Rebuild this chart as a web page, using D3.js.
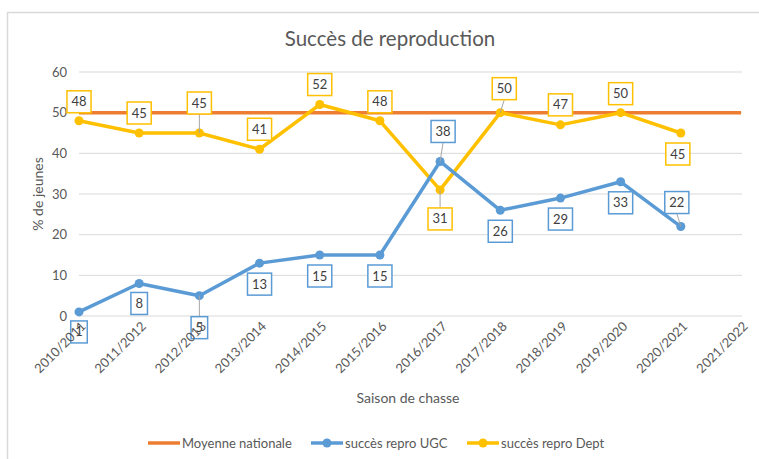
<!DOCTYPE html>
<html><head><meta charset="utf-8">
<script src="https://cdn.jsdelivr.net/npm/d3@7"></script>
<style>body{margin:0;background:#fff}svg{display:block;font-family:Lato,"Open Sans",sans-serif}</style>
</head><body><svg id="c" width="759" height="459"></svg>
<script>
const categories = ["2010/2011","2011/2012","2012/2013","2013/2014","2014/2015","2015/2016","2016/2017","2017/2018","2018/2019","2019/2020","2020/2021","2021/2022"];
const moyenneNationale = [50,50,50,50,50,50,50,50,50,50,50,50];
const reproUGC = [1,8,5,13,15,15,38,26,29,33,22];
const reproDept = [48,45,45,41,52,48,31,50,47,50,45];
const yTicks = [0,10,20,30,40,50,60];
// label placement offsets (pixels, relative to each point)
const ugcLabelDx = [0,0,0,0,0,0,3,0,0,0,-4];
const ugcLabelDy = [20,20,32,21,21,21,-30,21,21,21,-24];
const deptLabelDx = [0,0,0,0,0,0,0,4,0,0,-3];
const deptLabelDy = [-19,-20,-30,-20,-20,-19,29,-24,-20,-19,21];

const svg = d3.select("#c");
const W=759,H=459;
svg.append("rect").attr("x",7.5).attr("y",12.5).attr("width",W).attr("height",H).attr("fill","#fff").attr("stroke","#d9d9d9").attr("stroke-width",1.5);

const x = d3.scalePoint().domain(categories).range([79,741]);
const y = d3.scaleLinear().domain([0,60]).range([316,72]);

// grid
svg.append("g").selectAll("line").data(yTicks).join("line")
  .attr("x1",79).attr("x2",742).attr("y1",d=>y(d)).attr("y2",d=>y(d))
  .attr("stroke","#d9d9d9").attr("stroke-width",1);

// y axis
const ya = svg.append("g").attr("transform","translate(79,0)").call(d3.axisLeft(y).tickValues(yTicks).tickSize(0).tickPadding(12));
ya.select(".domain").remove();
ya.selectAll("text").attr("fill","#595959").style("font-size","13px").style("font-family","Lato");

// x axis
const xa = svg.append("g").attr("transform","translate(0,316)").call(d3.axisBottom(x).tickSize(0));
xa.select(".domain").remove();
xa.selectAll("text").attr("fill","#595959").style("font-size","13px").style("font-family","Lato")
  .attr("text-anchor","end").attr("dy",0).attr("transform","translate(5,9) rotate(-45)");

// titles
svg.append("text").attr("x",390).attr("y",46).attr("text-anchor","middle").attr("fill","#595959").style("font-size","20.5px").text("Succès de reproduction");
svg.append("text").attr("transform","translate(43,194) rotate(-90)").attr("text-anchor","middle").attr("fill","#595959").style("font-size","14px").text("% de jeunes");
svg.append("text").attr("x",408).attr("y",403).attr("text-anchor","middle").attr("fill","#595959").style("font-size","14px").text("Saison de chasse");

// national average line
const lineGen = d3.line().x((d,i)=>x(categories[i])).y(d=>y(d));
svg.append("path").datum(moyenneNationale).attr("d",lineGen).attr("fill","none").attr("stroke","#ED7D31").attr("stroke-width",3.5);

function series(vals,color){
  svg.append("path").datum(vals).attr("d",lineGen).attr("fill","none").attr("stroke",color).attr("stroke-width",3.5).attr("stroke-linejoin","round");
  svg.append("g").selectAll("circle").data(vals).join("circle")
    .attr("cx",(d,i)=>x(categories[i])).attr("cy",d=>y(d)).attr("r",4.5).attr("fill",color);
}
series(reproDept,"#FFC000");
series(reproUGC,"#5B9BD5");

function labels(vals,dxs,dys,color){
  const g = svg.append("g");
  vals.forEach((v,i)=>{
    const px=x(categories[i]), py=y(v);
    const cx=px+dxs[i], cy=py+dys[i];
    const t = g.append("text").attr("x",cx).attr("y",cy+4.5).attr("text-anchor","middle").attr("fill","#404040").style("font-size","13px").text(v);
    const tw = t.node().getComputedTextLength();
    const bw = tw+9, bh=22;
    if(Math.abs(dys[i])>22){
      const ey = dys[i]<0 ? cy+bh/2 : cy-bh/2;
      g.insert("line","text").attr("x1",px).attr("y1",py).attr("x2",cx).attr("y2",ey).attr("stroke","#A6A6A6").attr("stroke-width",1);
    }
    g.insert("rect","text").attr("x",cx-bw/2).attr("y",cy-bh/2).attr("width",bw).attr("height",bh)
      .attr("fill","#fff").attr("stroke",color).attr("stroke-width",1.5);
    t.raise();
  });
}
labels(reproDept,deptLabelDx,deptLabelDy,"#FFC000");
labels(reproUGC,ugcLabelDx,ugcLabelDy,"#5B9BD5");
// x tick labels drawn over the box at 2010/2011 as in reference
xa.raise();

// legend
const leg = svg.append("g");
const items = [["Moyenne nationale","#ED7D31",false,148],["succès repro UGC","#5B9BD5",true,311],["succès repro Dept","#FFC000",true,467]];
items.forEach(([name,color,mk,lx])=>{
  leg.append("line").attr("x1",lx).attr("x2",lx+32).attr("y1",443).attr("y2",443).attr("stroke",color).attr("stroke-width",3.5);
  if(mk) leg.append("circle").attr("cx",lx+16).attr("cy",443).attr("r",4.5).attr("fill",color);
  leg.append("text").attr("x",lx+34).attr("y",447.5).attr("fill","#595959").style("font-size","13px").text(name);
});
</script></body></html>
